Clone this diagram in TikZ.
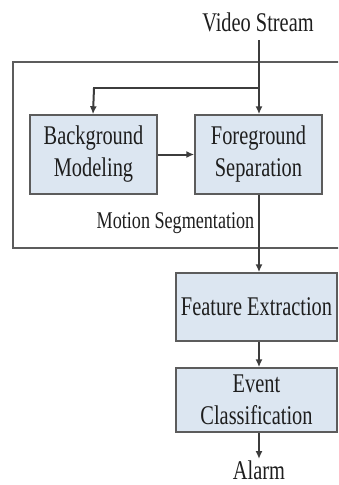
\documentclass[tikz,border=0pt]{standalone}
\usepackage{fontspec}
\setmainfont{Liberation Serif}[FakeStretch=0.755]
\usetikzlibrary{arrows.meta}
\definecolor{boxfill}{HTML}{DCE6F1}
\definecolor{boxline}{HTML}{5C5C5C}
\definecolor{conn}{HTML}{3C3C3C}
\definecolor{txt}{HTML}{1E1E1E}
\begin{document}
\begin{tikzpicture}[x=1pt,y=1pt,
  stagebox/.style={draw=boxline, line width=1.5pt, fill=boxfill, minimum height=#1, inner sep=0pt, align=center, text=txt, font=\fontsize{27}{32}\selectfont},
  stagebox/.default=79pt,
  plain/.style={inner sep=0pt, text=txt, font=\fontsize{27}{32}\selectfont},
  flow/.style={draw=conn, line width=2pt, -{Latex[length=8pt,width=7pt]}},
  wire/.style={draw=conn, line width=2pt}]
\useasboundingbox (0,0) rectangle (338,-485);
\clip (0,0) rectangle (338,-485);
\fill[white] (0,0) rectangle (338,-485);
% outer container
\node[draw=boxline, line width=1.5pt, minimum width=333pt, minimum height=186pt, inner sep=0pt, anchor=north west] (outer) at (12,-61) {};
% labels
\node[plain, anchor=base] (vs) at (258,-31) {Video Stream};
\node[plain, anchor=base, font=\fontsize{24}{28}\selectfont] (ms) at (175.5,-228) {Motion Segmentation};
\node[plain, anchor=base] (alarm) at (259,-479) {Alarm};
% boxes
\node[stagebox, minimum width=127pt] (bg) at (93.5,-154.5) {Background\\Modeling};
\node[stagebox, minimum width=127pt] (fg) at (258.5,-154.5) {Foreground\\Separation};
\node[stagebox=68pt, minimum width=161pt] (fe) at (256.5,-307) {Feature Extraction};
\node[stagebox=64pt, minimum width=161pt] (ec) at (256.5,-400) {Event\\Classification};
% connectors
\coordinate (src) at (259,-40);
\coordinate (split) at (259,-88);
\coordinate (bgin) at (93,-88);
\draw[flow] (src) -- (src |- fg.north);
\draw[wire] (split) -- (bgin);
\draw[flow] ([xshift=1pt]bgin) -- (bgin |- bg.north);
\draw[flow] (bg.east) -- (fg.east -| fg.west);
\draw[flow] (src |- fg.south) -- (src |- fe.north);
\draw[flow] (src |- fe.south) -- (src |- ec.north);
\draw[flow] (src |- ec.south) -- (259,-459);
\end{tikzpicture}
\end{document}
